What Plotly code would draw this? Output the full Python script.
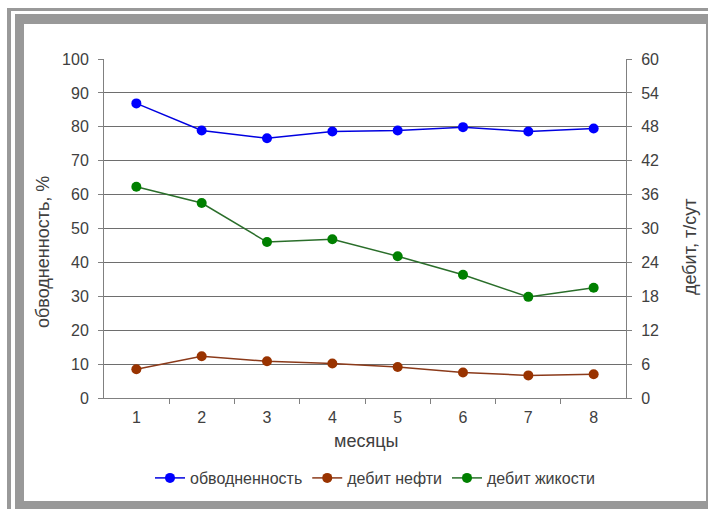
import plotly.graph_objects as go

months = ["1", "2", "3", "4", "5", "6", "7", "8"]
water_cut = [86.9, 78.9, 76.6, 78.6, 78.9, 79.9, 78.6, 79.5]
oil_rate = [5.1, 7.4, 6.5, 6.1, 5.5, 4.5, 4.0, 4.2]
liquid_rate = [37.4, 34.5, 27.6, 28.1, 25.1, 21.8, 17.9, 19.5]

W, H = 708, 509
L, R, T, B = 104, 626, 59, 398
PW, PH = R - L, B - T


def px(x):
    return (x - L) / PW


def py(y):
    return (B - y) / PH


fig = go.Figure()
fig.add_trace(go.Scatter(x=months, y=water_cut, name="обводненность", mode="lines+markers",
                         line=dict(color="#0000e0", width=1.5),
                         marker=dict(color="#0000ff", size=10), yaxis="y"))
fig.add_trace(go.Scatter(x=months, y=oil_rate, name="дебит нефти", mode="lines+markers",
                         line=dict(color="#8b3a1a", width=1.5),
                         marker=dict(color="#993300", size=10), yaxis="y2"))
fig.add_trace(go.Scatter(x=months, y=liquid_rate, name="дебит жикости", mode="lines+markers",
                         line=dict(color="#2a6e2a", width=1.5),
                         marker=dict(color="#008000", size=10), yaxis="y2"))

FAM = "Liberation Sans, Arial, sans-serif"
tickfont = dict(family=FAM, size=16, color="#404040")
titlefont = dict(family=FAM, size=18, color="#404040")

shapes = []
for (x0, y0, x1, y1, c) in [(7, 8, 730, 530, "#999999"), (11, 11, 730, 530, "white"),
                             (15, 14, 730, 530, "#999999"), (24, 24, 706, 501, "white")]:
    shapes.append(dict(type="rect", xref="paper", yref="paper", layer="below",
                       x0=px(x0), x1=px(x1), y0=py(y1), y1=py(y0),
                       fillcolor=c, line=dict(width=0)))

annotations = [
    dict(text="обводненность, %", x=px(43), y=py(252), xref="paper", yref="paper",
         textangle=-90, showarrow=False, font=titlefont, xanchor="center", yanchor="middle"),
    dict(text="дебит, т/сут", x=px(690), y=py(247), xref="paper", yref="paper",
         textangle=-90, showarrow=False, font=titlefont, xanchor="center", yanchor="middle"),
    dict(text="месяцы", x=px(366), y=py(441), xref="paper", yref="paper",
         showarrow=False, font=titlefont, xanchor="center", yanchor="middle"),
]

fig.update_layout(
    width=W, height=H,
    margin=dict(l=L, r=W - R, t=T, b=H - B, pad=0),
    paper_bgcolor="white", plot_bgcolor="white",
    font=tickfont,
    shapes=shapes, annotations=annotations,
    showlegend=True,
    legend=dict(orientation="h", x=px(375), xanchor="center", y=py(478), yanchor="middle",
                font=dict(family=FAM, size=16, color="#404040"),
                bgcolor="rgba(0,0,0,0)", itemwidth=30, tracegroupgap=0),
    xaxis=dict(type="category", tickson="boundaries", ticks="outside", ticklen=5,
               tickcolor="#808080", showline=True, linecolor="#808080", linewidth=1,
               showgrid=False, zeroline=False, tickfont=tickfont, ticklabelstandoff=5),
    yaxis=dict(range=[0, 100], dtick=10, ticks="outside", ticklen=5, tickcolor="#808080",
               showline=True, linecolor="#808080", linewidth=1, ticklabelstandoff=6,
               showgrid=True, gridcolor="#6e6e6e", gridwidth=1, zeroline=False, tickfont=tickfont),
    yaxis2=dict(range=[0, 60], dtick=6, overlaying="y", side="right", ticks="outside",
                ticklen=5, tickcolor="#808080", showline=True, linecolor="#808080", linewidth=1,
                ticklabelstandoff=6,
                showgrid=False, zeroline=False, tickfont=tickfont),
)

fig.write_html("out.html", config={"displayModeBar": False},
               post_script="document.body.style.margin='0';")
